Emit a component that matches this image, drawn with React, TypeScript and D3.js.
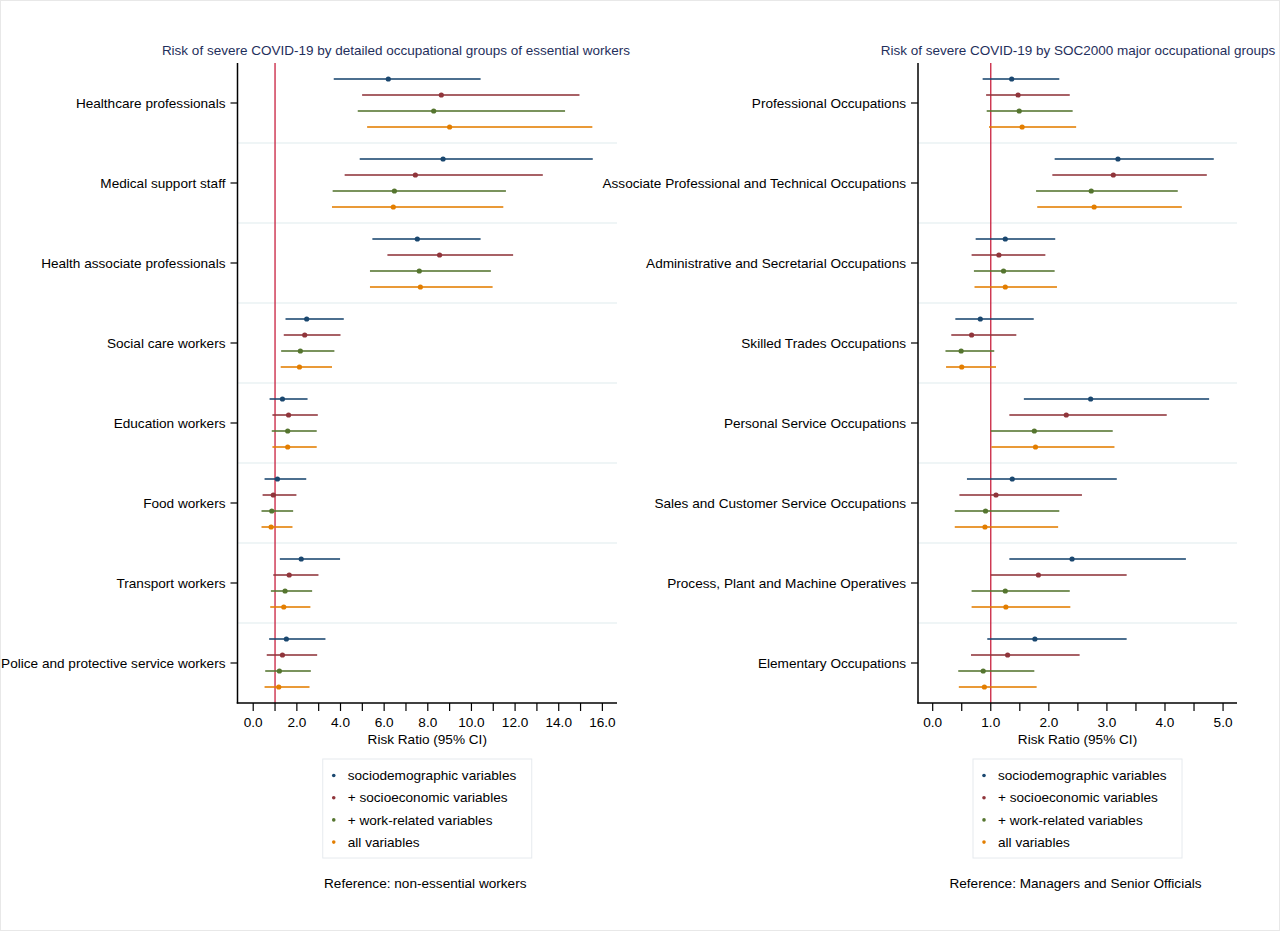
import React from "react";
import * as d3 from "d3";

// ---------- DATA ----------
const seriesNames = [
  "sociodemographic variables",
  "+ socioeconomic variables",
  "+ work-related variables",
  "all variables",
];
const seriesColors = ["#1a476f", "#90353b", "#55752f", "#e37e00"];

const leftCategories = [
  "Healthcare professionals",
  "Medical support staff",
  "Health associate professionals",
  "Social care workers",
  "Education workers",
  "Food workers",
  "Transport workers",
  "Police and protective service workers",
];
// [lower, estimate, upper]
const leftSociodem = [
  [3.69, 6.19, 10.42], [4.88, 8.7, 15.56], [5.46, 7.52, 10.42], [1.48, 2.45, 4.15],
  [0.75, 1.34, 2.49], [0.52, 1.11, 2.43], [1.22, 2.2, 3.98], [0.73, 1.52, 3.31],
];
const leftSocioecon = [
  [4.99, 8.62, 14.95], [4.19, 7.43, 13.27], [6.15, 8.54, 11.91], [1.4, 2.36, 4.0],
  [0.88, 1.62, 2.96], [0.43, 0.92, 1.98], [0.92, 1.65, 2.99], [0.62, 1.34, 2.93],
];
const leftWork = [
  [4.79, 8.27, 14.29], [3.64, 6.47, 11.58], [5.35, 7.61, 10.89], [1.28, 2.16, 3.72],
  [0.85, 1.58, 2.91], [0.38, 0.85, 1.83], [0.81, 1.46, 2.7], [0.55, 1.2, 2.64],
];
const leftAll = [
  [5.22, 9.0, 15.54], [3.61, 6.42, 11.46], [5.35, 7.66, 10.97], [1.26, 2.12, 3.61],
  [0.88, 1.58, 2.91], [0.38, 0.82, 1.8], [0.78, 1.4, 2.62], [0.52, 1.17, 2.58],
];

const rightCategories = [
  "Professional Occupations",
  "Associate Professional and Technical Occupations",
  "Administrative and Secretarial Occupations",
  "Skilled Trades Occupations",
  "Personal Service Occupations",
  "Sales and Customer Service Occupations",
  "Process, Plant and Machine Operatives",
  "Elementary Occupations",
];
const rightSociodem = [
  [0.86, 1.36, 2.18], [2.1, 3.19, 4.84], [0.74, 1.25, 2.11], [0.39, 0.82, 1.74],
  [1.57, 2.72, 4.76], [0.59, 1.37, 3.17], [1.32, 2.4, 4.36], [0.94, 1.76, 3.34],
];
const rightSocioecon = [
  [0.92, 1.47, 2.36], [2.06, 3.11, 4.72], [0.67, 1.14, 1.94], [0.32, 0.67, 1.44],
  [1.32, 2.3, 4.03], [0.46, 1.09, 2.57], [1.0, 1.82, 3.34], [0.66, 1.29, 2.53],
];
const rightWork = [
  [0.93, 1.49, 2.41], [1.78, 2.73, 4.22], [0.71, 1.22, 2.1], [0.22, 0.49, 1.06],
  [1.0, 1.75, 3.1], [0.38, 0.91, 2.18], [0.67, 1.25, 2.36], [0.44, 0.87, 1.75],
];
const rightAll = [
  [0.97, 1.54, 2.47], [1.8, 2.78, 4.29], [0.72, 1.25, 2.14], [0.23, 0.5, 1.09],
  [1.01, 1.77, 3.13], [0.38, 0.9, 2.16], [0.67, 1.26, 2.37], [0.45, 0.89, 1.79],
];

const leftMajorTicks = [0, 2, 4, 6, 8, 10, 12, 14, 16];
const leftMinorTicks = d3.range(0, 17, 1);
const rightMajorTicks = [0, 1, 2, 3, 4, 5];
const rightMinorTicks = d3.range(0, 5.01, 0.5);

const leftTitle = "Risk of severe COVID-19 by detailed occupational groups of essential workers";
const rightTitle = "Risk of severe COVID-19 by SOC2000 major occupational groups";
const leftNote = "Reference: non-essential workers";
const rightNote = "Reference: Managers and Senior Officials";
const axisTitle = "Risk Ratio (95% CI)";

// ---------- COMPONENT ----------
const FONT = "'Liberation Sans', Arial, Helvetica, sans-serif";
const FS = 13.6;

type PanelProps = {
  categories: string[];
  series: number[][][];
  xDomain: [number, number];
  xRange: [number, number];
  majorTicks: number[];
  minorTicks: number[];
  title: string;
  titleX: number;
  note: string;
};

function Panel(p: PanelProps) {
  const top = 63;
  const bottom = 703;
  const x = d3.scaleLinear().domain(p.xDomain).range(p.xRange);
  const y = d3.scaleBand<string>().domain(p.categories).range([top, bottom]);
  const offsets = [-24, -8, 8, 24];
  const [x0, x1] = p.xRange;
  const cx = (x0 + x1) / 2;
  const legendW = 209;
  const legendX = cx - legendW / 2;
  return (
    <g fontFamily={FONT}>
      <text x={p.titleX} y={55} textAnchor="middle" fontSize={13.5} fill="#1f2f5c">
        {p.title}
      </text>
      {/* gridlines between groups */}
      {p.categories.slice(1).map((c) => (
        <line key={"g" + c} x1={x0} x2={x1} y1={y(c)!} y2={y(c)!} stroke="#eaf2f3" strokeWidth={1.5} />
      ))}
      {/* reference line */}
      <line x1={x(1)} x2={x(1)} y1={top} y2={bottom} stroke="#c8203e" strokeWidth={1.3} />
      {/* CIs */}
      {p.series.map((s, si) =>
        s.map((d, i) => {
          const yy = y(p.categories[i])! + y.bandwidth() / 2 + offsets[si];
          return (
            <g key={si + "-" + i}>
              <line x1={x(d[0])} x2={x(d[2])} y1={yy} y2={yy} stroke={seriesColors[si]} strokeWidth={2} strokeOpacity={0.78} />
              <circle cx={x(d[1])} cy={yy} r={2.6} fill={seriesColors[si]} />
            </g>
          );
        })
      )}
      {/* y axis */}
      <line x1={x0} x2={x0} y1={top} y2={bottom + 0.5} stroke="#000" strokeWidth={1.5} />
      {p.categories.map((c) => {
        const yy = y(c)! + y.bandwidth() / 2;
        return (
          <g key={"yl" + c}>
            <line x1={x0 - 7} x2={x0} y1={yy} y2={yy} stroke="#000" strokeWidth={1.2} />
            <text x={x0 - 12} y={yy + 4.7} textAnchor="end" fontSize={FS} fill="#000">
              {c}
            </text>
          </g>
        );
      })}
      {/* x axis */}
      <line x1={x0 - 0.75} x2={x1} y1={bottom} y2={bottom} stroke="#000" strokeWidth={1.5} />
      {p.minorTicks.map((t) => (
        <line key={"mt" + t} x1={x(t)} x2={x(t)} y1={bottom} y2={bottom + 8} stroke="#000" strokeWidth={1.2} />
      ))}
      {p.majorTicks.map((t) => (
        <text key={"tl" + t} x={x(t)} y={bottom + 23.5} textAnchor="middle" fontSize={FS} fill="#000">
          {d3.format(".1f")(t)}
        </text>
      ))}
      <text x={cx} y={bottom + 41} textAnchor="middle" fontSize={FS} fill="#000">
        {axisTitle}
      </text>
      {/* legend */}
      <rect x={legendX} y={759} width={legendW} height={99} fill="#fff" stroke="#e6eaee" strokeWidth={1} />
      {seriesNames.map((n, i) => (
        <g key={"lg" + n}>
          <circle cx={legendX + 11} cy={775.5 + i * 22.2} r={1.8} fill={seriesColors[i]} />
          <text x={legendX + 25} y={780.2 + i * 22.2} fontSize={FS} fill="#000">
            {n}
          </text>
        </g>
      ))}
      <text x={cx - 2} y={888} textAnchor="middle" fontSize={FS} fill="#000">
        {p.note}
      </text>
    </g>
  );
}

export default function App() {
  return (
    <svg
      width={1280}
      height={931}
      style={{ position: "absolute", left: 0, top: 0, background: "#fff" }}
    >
      <rect x={0.5} y={0.5} width={1279} height={930} fill="#fff" stroke="#e8e8e8" />
      <Panel
        categories={leftCategories}
        series={[leftSociodem, leftSocioecon, leftWork, leftAll]}
        xDomain={[-0.72, 16.67]}
        xRange={[237.5, 617]}
        majorTicks={leftMajorTicks}
        minorTicks={leftMinorTicks}
        title={leftTitle}
        titleX={396}
        note={leftNote}
      />
      <Panel
        categories={rightCategories}
        series={[rightSociodem, rightSocioecon, rightWork, rightAll]}
        xDomain={[-0.253, 5.24]}
        xRange={[918, 1237]}
        majorTicks={rightMajorTicks}
        minorTicks={rightMinorTicks}
        title={rightTitle}
        titleX={1078}
        note={rightNote}
      />
    </svg>
  );
}
